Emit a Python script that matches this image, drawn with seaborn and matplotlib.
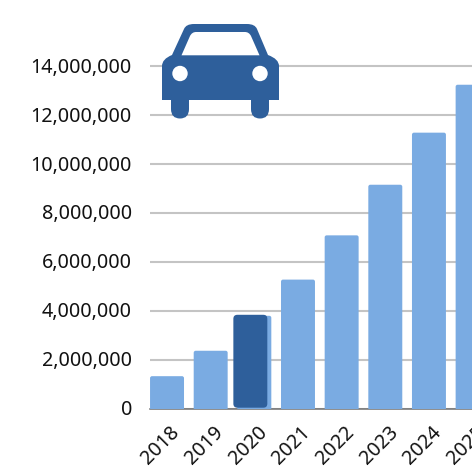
import matplotlib
matplotlib.use("Agg")
import matplotlib.pyplot as plt
from matplotlib.patches import FancyBboxPatch, PathPatch
from matplotlib.path import Path
from matplotlib.transforms import Affine2D, ScaledTranslation
import seaborn as sns

years = ["2018", "2019", "2020", "2021", "2022", "2023", "2024", "2025"]
values = [1330000, 2370000, 3800000, 5280000, 7090000, 9160000, 11290000, 13250000]
highlight_year = "2020"
y_ticks = [0, 2000000, 4000000, 6000000, 8000000, 10000000, 12000000, 14000000]

W, H = 472, 468
LIGHT, DARK, GRID = "#7aabe2", "#2e5f9b", "#c4c4c4"

sns.set_theme(style="white")
plt.rcParams["font.family"] = ["Noto Sans", "DejaVu Sans"]

fig = plt.figure(figsize=(W / 100, H / 100), dpi=100)
# The axes run past the right edge of the figure, so the last bar is cut off.
ax = fig.add_axes([150 / W, (H - 408.7) / H, 344 / W, 408.7 / H])
sns.barplot(x=years, y=values, color=LIGHT, saturation=1, width=0.778, ax=ax, zorder=3)

ax.set_xlim(-0.39, 7.49)
px_y = 2000000 / 48.9
px_x = 1 / 43.7
ax.set_ylim(0, 408.7 * px_y)
ax.set_yticks(y_ticks)
ax.set_yticklabels([f"{v:,}" for v in y_ticks], fontsize=14.2, color="#111111")
ax.set_xlabel("")
ax.set_ylabel("")
ax.grid(axis="y", color=GRID, linewidth=1.5, zorder=1)
ax.set_axisbelow(True)
ax.tick_params(axis="y", length=0, pad=13)
ax.tick_params(axis="x", length=0, pad=0)
for s in ("left", "right", "top"):
    ax.spines[s].set_visible(False)
ax.spines["bottom"].set_color("#6f6f6f")
ax.spines["bottom"].set_linewidth(1.1)
ax.spines["bottom"].set_zorder(2)

offset = ScaledTranslation(0.028, -0.135, fig.dpi_scale_trans)
for lab in ax.get_xticklabels():
    lab.set(rotation=45, ha="right", va="top", rotation_mode="anchor",
            fontsize=14.2, color="#111111", clip_on=False)
    lab.set_transform(lab.get_transform() + offset)
y_offset = ScaledTranslation(0, 0.012, fig.dpi_scale_trans)
for lab in ax.get_yticklabels():
    lab.set_transform(lab.get_transform() + y_offset)


def rounded(x, y, w, h, r_px, color, z):
    return FancyBboxPatch((x, y), w, h,
                          boxstyle=f"round,pad=0,rounding_size={r_px * px_x}",
                          mutation_aspect=px_y / px_x, fc=color, ec="none", zorder=z)


highlight = None
for name, bar in zip(years, list(ax.patches)):
    x, w, h = bar.get_x(), bar.get_width(), bar.get_height()
    bar.set_visible(False)
    # Start below zero: the axes clip it, leaving only the top corners rounded.
    ax.add_patch(rounded(x, -6 * px_y, w, h + 6 * px_y, 2, LIGHT, 3))
    if name == highlight_year:
        highlight = (x - 4 * px_x, w, h)
hx, hw, hh = highlight
ax.add_patch(rounded(hx, 1 * px_y, hw, hh, 4, DARK, 4))

# Car pictogram, laid out in image pixels (y pointing down).
to_fig = Affine2D().scale(1 / W, -1 / H).translate(0, 1) + fig.transFigure
M, L, Q, C = Path.MOVETO, Path.LINETO, Path.CURVE3, Path.CLOSEPOLY
body = [
    (162, 100), (162, 66), (162, 59), (172, 55), (184, 29), (186, 24), (194, 24),
    (247, 24), (255, 24), (257, 29), (268, 55), (279, 59), (279, 66), (279, 100),
    (269, 100), (269, 109), (269, 118.5), (260, 118.5), (251, 118.5), (251, 109),
    (251, 100), (189, 100), (189, 109), (189, 118.5), (180, 118.5), (171, 118.5),
    (171, 109), (171, 100), (162, 100),
]
body_codes = [
    M, L, Q, Q, L, Q, Q,
    L, Q, Q, L, Q, Q, L,
    L, L, Q, Q, Q, Q,
    L, L, L, Q, Q, Q,
    Q, L, C,
]
fig.add_artist(PathPatch(Path(body, body_codes), fc=DARK, ec="none", transform=to_fig, zorder=10))
window = [(181.5, 55.3), (190, 36), (192, 32), (196, 32), (245, 32), (249, 32), (251, 36),
          (259.5, 55.3), (181.5, 55.3)]
window_codes = [M, L, Q, Q, L, Q, Q, L, C]
fig.add_artist(PathPatch(Path(window, window_codes), fc="white", ec="none", transform=to_fig, zorder=11))
for cx in (180, 260):
    fig.add_artist(PathPatch(Path.circle((cx, 73.5), 7.7), fc="white", ec="none",
                             transform=to_fig, zorder=11))

fig.savefig("out.png", dpi=100)
